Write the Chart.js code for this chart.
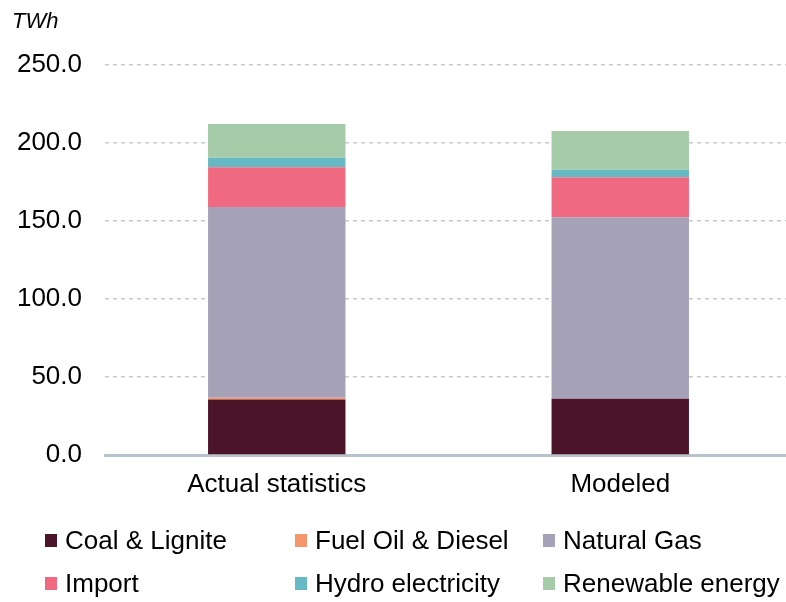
<!DOCTYPE html>
<html>
<head>
<meta charset="utf-8">
<script src="https://cdn.jsdelivr.net/npm/chart.js@4"></script>
<style>
  html, body { margin: 0; padding: 0; background: #fff; }
  #wrap { position: relative; width: 786px; height: 602px; overflow: hidden; font-family: "Liberation Sans", Arial, sans-serif; }
  #box { position: absolute; left: 0; top: 0; width: 792px; height: 602px; }
  #unit { position: absolute; left: 12px; top: 8px; font-size: 22px; font-style: italic; color: #000; }
  .lg { position: absolute; display: flex; align-items: center; font-size: 26px; color: #000; white-space: nowrap; }
  .lg span { display: inline-block; width: 12px; height: 13px; margin-right: 8px; }
</style>
</head>
<body>
<div id="wrap">
  <div id="box"><canvas id="grafico" width="792" height="602"></canvas></div>
  <div id="unit">TWh</div>
  <div id="leyenda"></div>
</div>
<script>
(function () {
  const categorias = ['Actual statistics', 'Modeled'];
  const carbon = [35.5, 36.1];
  const fuelOil = [1.2, 0];
  const gas = [122.3, 116.3];
  const importacion = [25.4, 25.6];
  const hidro = [6.2, 4.9];
  const renovable = [21.6, 24.8];
  const ticksY = [0, 50, 100, 150, 200, 250];

  const series = [
    { label: 'Coal & Lignite', data: carbon, color: '#4b1429' },
    { label: 'Fuel Oil & Diesel', data: fuelOil, color: '#f5956b' },
    { label: 'Natural Gas', data: gas, color: '#a5a2b8' },
    { label: 'Import', data: importacion, color: '#ef6a80' },
    { label: 'Hydro electricity', data: hidro, color: '#66b8c3' },
    { label: 'Renewable energy', data: renovable, color: '#a6cba9' }
  ];

  const ctx = document.getElementById('grafico');
  new Chart(ctx, {
    type: 'bar',
    data: {
      labels: categorias,
      datasets: series.map(s => ({
        label: s.label,
        data: s.data,
        backgroundColor: s.color,
        borderWidth: 0,
        categoryPercentage: 1,
        barPercentage: 0.4
      }))
    },
    options: {
      responsive: false,
      animation: false,
      maintainAspectRatio: false,
      layout: { padding: { top: 65, left: 0, right: 0, bottom: 0 } },
      plugins: {
        legend: { display: false },
        tooltip: { enabled: false }
      },
      scales: {
        x: {
          stacked: true,
          grid: { display: false, drawTicks: false },
          border: { display: true, color: '#b8c3cb', width: 3 },
          ticks: { color: '#000', padding: 14, font: { family: 'Liberation Sans', size: 26 } },
          afterFit: s => { s.height = 147; }
        },
        y: {
          stacked: true,
          min: 0,
          max: 250,
          afterBuildTicks: s => { s.ticks = ticksY.map(v => ({ value: v })); },
          grid: {
            drawTicks: false,
            color: c => c.tick && c.tick.value === 0 ? 'rgba(0,0,0,0)' : '#c3cad2',
            lineWidth: 1.5
          },
          border: { display: false, dash: [4, 4] },
          ticks: {
            color: '#000',
            padding: 23,
            font: { family: 'Liberation Sans', size: 26 },
            callback: v => Number(v).toFixed(1)
          },
          afterFit: s => { s.width = 105; }
        }
      }
    }
  });

  const cols = [45, 295, 543];
  const rows = [540, 583];
  const leyenda = document.getElementById('leyenda');
  series.forEach((s, i) => {
    const d = document.createElement('div');
    d.className = 'lg';
    d.style.left = cols[i % 3] + 'px';
    d.style.top = (rows[Math.floor(i / 3)] - 16) + 'px';
    d.style.height = '32px';
    d.innerHTML = '<span style="background:' + s.color + '"></span>' + s.label;
    leyenda.appendChild(d);
  });
})();
</script>
</body>
</html>
